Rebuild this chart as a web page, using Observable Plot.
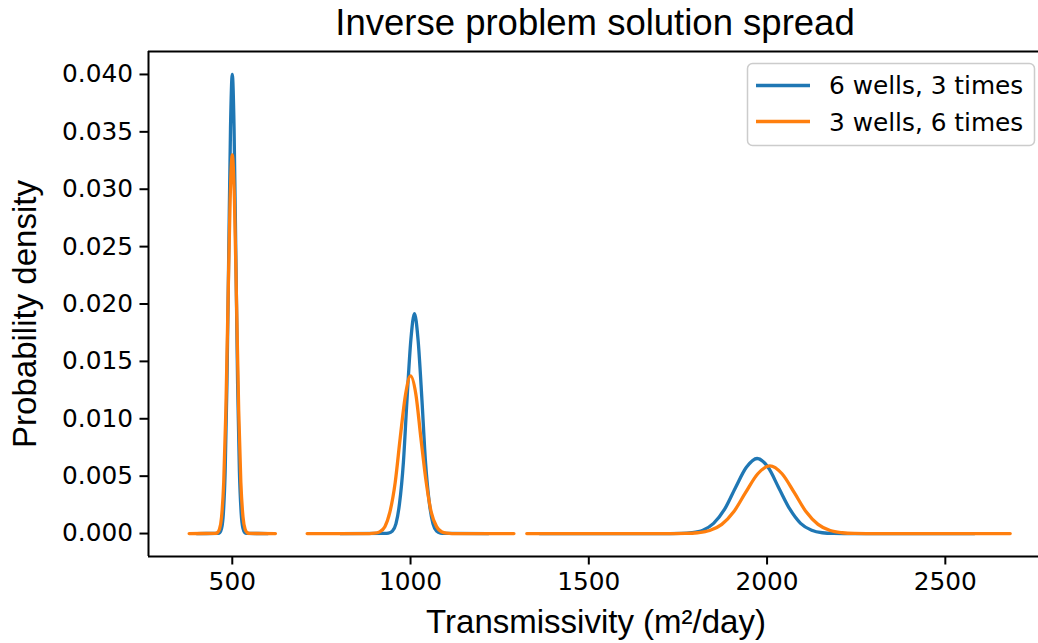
<!DOCTYPE html>
<html><head><meta charset="utf-8">
<script src="https://cdn.jsdelivr.net/npm/d3@7"></script>
<script src="https://cdn.jsdelivr.net/npm/@observablehq/plot@0.6"></script>
<style>body{margin:0;background:#fff;} #chart{position:relative;width:1038px;height:643px;overflow:hidden;}</style>
</head><body><div id="chart"></div>
<script>
const seriesNames = ["6 wells, 3 times", "3 wells, 6 times"];
const seriesColors = ["#1f77b4", "#ff7f0e"];
const xTicks = [500, 1000, 1500, 2000, 2500];
const yTicks = [0, 0.005, 0.01, 0.015, 0.02, 0.025, 0.03, 0.035, 0.04];
const xDomain = [265, 2795];
const yDomain = [-0.002, 0.042];

// "6 wells, 3 times" (blue) — three peaks
const blue1X = [400, 460, 465, 470, 475, 480, 485, 490, 495, 500, 505, 510, 515, 520, 525, 530, 535, 540, 600];
const blue1Y = [0, 0.00001, 0.00009, 0.00044, 0.00176, 0.00541, 0.01299, 0.02426, 0.0353, 0.0400, 0.0353, 0.02426, 0.01299, 0.00541, 0.00176, 0.00044, 0.00009, 0.00001, 0];
const blue2X = [803, 928, 938, 949, 959, 969, 980, 990, 1001, 1011, 1021, 1032, 1042, 1053, 1063, 1073, 1084, 1094, 1219];
const blue2Y = [0, 0.00001, 0.00004, 0.00021, 0.00084, 0.00259, 0.00622, 0.01163, 0.01692, 0.01917, 0.01692, 0.01163, 0.00622, 0.00259, 0.00084, 0.00021, 0.00004, 0.00001, 0];
const blue3X = [1362, 1728, 1759, 1789, 1820, 1850, 1881, 1911, 1942, 1972, 2003, 2033, 2064, 2094, 2125, 2155, 2186, 2216, 2582];
const blue3Y = [0, 0, 0.00001, 0.00007, 0.00029, 0.00089, 0.00212, 0.00397, 0.00577, 0.00654, 0.00577, 0.00397, 0.00212, 0.00089, 0.00029, 0.00007, 0.00001, 0, 0];

// "3 wells, 6 times" (orange) — three peaks
const orange1X = [379, 452, 458, 464, 470, 476, 482, 488, 494, 500, 506, 512, 518, 524, 530, 536, 542, 548, 621];
const orange1Y = [0, 0.00001, 0.00007, 0.00037, 0.00145, 0.00447, 0.01072, 0.02002, 0.02912, 0.0330, 0.02912, 0.02002, 0.01072, 0.00447, 0.00145, 0.00037, 0.00007, 0.00001, 0];
const orange2X = [710, 884, 899, 913, 928, 942, 957, 971, 986, 1000, 1015, 1029, 1044, 1058, 1073, 1087, 1102, 1116, 1290];
const orange2Y = [0, 0, 0.00003, 0.00015, 0.0006, 0.00186, 0.00446, 0.00833, 0.01212, 0.01373, 0.01212, 0.00833, 0.00446, 0.00186, 0.0006, 0.00015, 0.00003, 0, 0];
const orange3X = [1326, 1738, 1771, 1805, 1839, 1873, 1907, 1940, 1974, 2008, 2042, 2076, 2109, 2143, 2177, 2211, 2245, 2278, 2682];
const orange3Y = [0, 0, 0.00001, 0.00007, 0.00026, 0.0008, 0.00192, 0.00358, 0.00521, 0.0059, 0.00521, 0.00358, 0.00192, 0.0008, 0.00026, 0.00007, 0.00001, 0, 0];

const segments = [
  {s: 0, x: blue1X, y: blue1Y}, {s: 0, x: blue2X, y: blue2Y}, {s: 0, x: blue3X, y: blue3Y},
  {s: 1, x: orange1X, y: orange1Y}, {s: 1, x: orange2X, y: orange2Y}, {s: 1, x: orange3X, y: orange3Y}
];
const data = segments.flatMap((seg, i) => seg.x.map((x, j) => ({x, y: seg.y[j], series: seriesNames[seg.s], seg: i})));

const chart = Plot.plot({
  width: 1038, height: 643,
  marginLeft: 148, marginRight: -12, marginTop: 51, marginBottom: 87,
  style: {fontFamily: "'DejaVu Sans', sans-serif", fontSize: "24.8px", background: "white", color: "black"},
  x: {domain: xDomain},
  y: {domain: yDomain},
  color: {domain: seriesNames, range: seriesColors},
  marks: [
    Plot.line(data, {x: "x", y: "y", z: "seg", stroke: "series", strokeWidth: 3.3, curve: "monotone-x"}),
    Plot.ruleX([xDomain[0]], {stroke: "black", strokeWidth: 2}),
    Plot.ruleY(yDomain, {stroke: "black", strokeWidth: 2}),
    Plot.axisX({ticks: xTicks, tickFormat: d3.format("d"), tickSize: 8.5, tickPadding: 7, strokeWidth: 2, label: null}),
    Plot.axisY({ticks: yTicks, tickFormat: d3.format(".3f"), tickSize: 8.5, tickPadding: 7, strokeWidth: 2, label: null})
  ]
});

const svg = d3.select(chart);
const sans = "'Liberation Sans', Arial, Helvetica, sans-serif";
svg.append("text").attr("x", 595).attr("y", 35).attr("text-anchor", "middle")
  .attr("font-family", sans).attr("font-size", 36.5).attr("fill", "black").text("Inverse problem solution spread");
svg.append("text").attr("x", 596).attr("y", 633).attr("text-anchor", "middle")
  .attr("font-family", sans).attr("font-size", 33).attr("fill", "black").text("Transmissivity (m²/day)");
svg.append("text").attr("transform", "translate(36,314) rotate(-90)").attr("text-anchor", "middle")
  .attr("font-family", sans).attr("font-size", 33).attr("fill", "black").text("Probability density");

const lg = svg.append("g");
lg.append("rect").attr("x", 747.5).attr("y", 63.5).attr("width", 287).attr("height", 82).attr("rx", 5)
  .attr("fill", "white").attr("fill-opacity", 0.8).attr("stroke", "#cccccc").attr("stroke-width", 1.5);
[[85.5, 93.5], [121.5, 131]].forEach(([ly, ty], i) => {
  lg.append("line").attr("x1", 756).attr("x2", 810).attr("y1", ly).attr("y2", ly)
    .attr("stroke", seriesColors[i]).attr("stroke-width", 3.3);
  lg.append("text").attr("x", 829).attr("y", ty).attr("text-anchor", "start")
    .attr("font-family", "'DejaVu Sans', sans-serif")
    .attr("font-size", 24.8).attr("fill", "black").text(seriesNames[i]);
});

document.getElementById("chart").appendChild(chart);
</script>
</body></html>
